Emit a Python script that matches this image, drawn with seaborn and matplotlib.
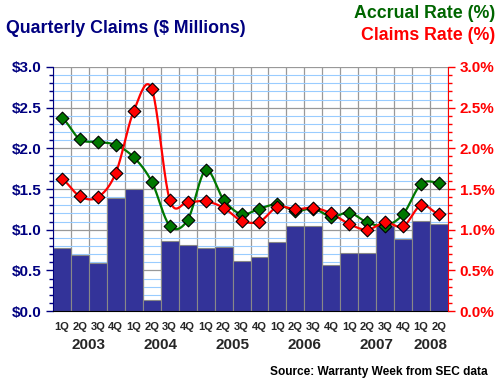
import numpy as np
import pandas as pd
import seaborn as sns
import matplotlib.pyplot as plt
from matplotlib.ticker import MultipleLocator, FuncFormatter

sns.set_style("white")
plt.rcParams['font.family'] = ['Liberation Sans', 'DejaVu Sans']
plt.rcParams['font.weight'] = 'bold'

# data
quarters = ['1Q', '2Q', '3Q', '4Q'] * 5 + ['1Q', '2Q']
years = ['2003', '2004', '2005', '2006', '2007', '2008']
claims = [0.78, 0.69, 0.59, 1.39, 1.50, 0.14, 0.86, 0.81, 0.77, 0.79, 0.62, 0.66,
          0.85, 1.05, 1.05, 0.57, 0.71, 0.71, 1.05, 0.88, 1.11, 1.07]
accrual_rate = [2.37, 2.11, 2.08, 2.04, 1.89, 1.59, 1.05, 1.12, 1.73, 1.37, 1.19, 1.26,
                1.31, 1.23, 1.26, 1.16, 1.21, 1.09, 1.05, 1.19, 1.56, 1.58]
claims_rate = [1.62, 1.41, 1.40, 1.70, 2.46, 2.73, 1.37, 1.34, 1.35, 1.27, 1.11, 1.10,
               1.28, 1.25, 1.27, 1.20, 1.07, 1.00, 1.09, 1.04, 1.30, 1.19]

n = len(claims)
df = pd.DataFrame({'idx': range(n), 'claims': claims,
                   'accrual': accrual_rate, 'crate': claims_rate})


def smooth(y, steps=20):
    # catmull-rom curve through the points
    y = np.asarray(y, dtype=float)
    p = np.concatenate([[y[0]], y, [y[-1]]])
    xs, ys = [], []
    for i in range(len(y) - 1):
        t = np.linspace(0, 1, steps, endpoint=False)
        p0, p1, p2, p3 = p[i], p[i + 1], p[i + 2], p[i + 3]
        v = 0.5 * (2 * p1 + (-p0 + p2) * t + (2 * p0 - 5 * p1 + 4 * p2 - p3) * t ** 2
                   + (-p0 + 3 * p1 - 3 * p2 + p3) * t ** 3)
        xs.extend(i + t)
        ys.extend(v)
    xs.append(len(y) - 1)
    ys.append(y[-1])
    return np.array(xs), np.array(ys)


navy = '#000080'
fig = plt.figure(figsize=(5, 3.85), dpi=100)
ax = fig.add_axes([0.106, 0.192, 0.79, 0.634])

ax.set_ylim(0, 3.0)
ax.set_xlim(-0.5, n - 0.5)
ax.yaxis.set_major_locator(MultipleLocator(0.5))
ax.yaxis.set_minor_locator(MultipleLocator(0.1))
ax.grid(which='minor', axis='y', color='#99CCFF', lw=0.8)
ax.grid(which='major', axis='y', color='#999999', lw=0.9)
for b in np.arange(-0.5, n, 1.0):
    ax.axvline(b, color='#999999', lw=0.9, zorder=0.5)
ax.set_axisbelow(True)

sns.barplot(data=df, x='idx', y='claims', ax=ax, width=1.0, color='#333399',
            saturation=1, edgecolor='#888888', linewidth=0.8, zorder=2)
ax.set_xlim(-0.5, n - 0.5)
ax.set_xlabel('')
ax.set_ylabel('')
ax.yaxis.set_major_formatter(FuncFormatter(lambda v, p: f'${v:.1f}'))
ax.tick_params(axis='y', which='major', colors=navy, labelsize=11, length=5, width=1)
ax.tick_params(axis='y', which='minor', colors=navy, length=3, width=1)
for lab in ax.get_yticklabels():
    lab.set_fontweight('bold')

ax.set_xticks(np.arange(-0.5, n, 1.0), minor=True)
ax.set_xticks(range(n))
ax.set_xticklabels(quarters, fontsize=8, fontweight='bold')
ax.tick_params(axis='x', which='major', length=0, pad=8)
ax.tick_params(axis='x', which='minor', length=4, color='black')
for i, yr in enumerate(years):
    ax.text(i * 4 + (1.5 if i < 5 else 0.5), -0.11, yr, transform=ax.get_xaxis_transform(),
            ha='center', va='top', fontsize=11, fontweight='bold')

for s in ['top', 'right']:
    ax.spines[s].set_visible(False)
ax.spines['left'].set_color(navy)
ax.spines['bottom'].set_color('black')

ax2 = ax.twinx()
ax2.set_ylim(0, 3.0)
ax2.yaxis.set_major_locator(MultipleLocator(0.5))
ax2.yaxis.set_minor_locator(MultipleLocator(0.1))
ax2.yaxis.set_major_formatter(FuncFormatter(lambda v, p: f'{v:.1f}%'))
ax2.tick_params(axis='y', which='major', colors='red', labelsize=11, length=5, width=1)
ax2.tick_params(axis='y', which='minor', colors='red', length=3, width=1)
for lab in ax2.get_yticklabels():
    lab.set_fontweight('bold')
for s in ['top', 'left', 'bottom']:
    ax2.spines[s].set_visible(False)
ax2.spines['right'].set_color('red')

for col, c in [('accrual', '#007700'), ('crate', '#FF0000')]:
    sx, sy = smooth(df[col])
    ax2.plot(sx, sy, color=c, lw=1.6, zorder=3)
    sns.scatterplot(data=df, x='idx', y=col, ax=ax2, marker='D', s=42, color=c,
                    edgecolor='black', linewidth=0.8, zorder=4)
ax2.set_xlim(-0.5, n - 0.5)
ax2.set_xlabel('')
ax2.set_ylabel('')

fig.text(0.012, 0.925, 'Quarterly Claims ($ Millions)', color=navy, fontsize=12.8,
         fontweight='bold', ha='left', va='center')
fig.text(0.99, 0.965, 'Accrual Rate (%)', color='#006600', fontsize=12.8,
         fontweight='bold', ha='right', va='center')
fig.text(0.99, 0.907, 'Claims Rate (%)', color='red', fontsize=12.8,
         fontweight='bold', ha='right', va='center')
fig.text(0.975, 0.033, 'Source: Warranty Week from SEC data', color='black',
         fontsize=8.6, fontweight='bold', ha='right', va='center')

fig.savefig('out.png', dpi=100)
